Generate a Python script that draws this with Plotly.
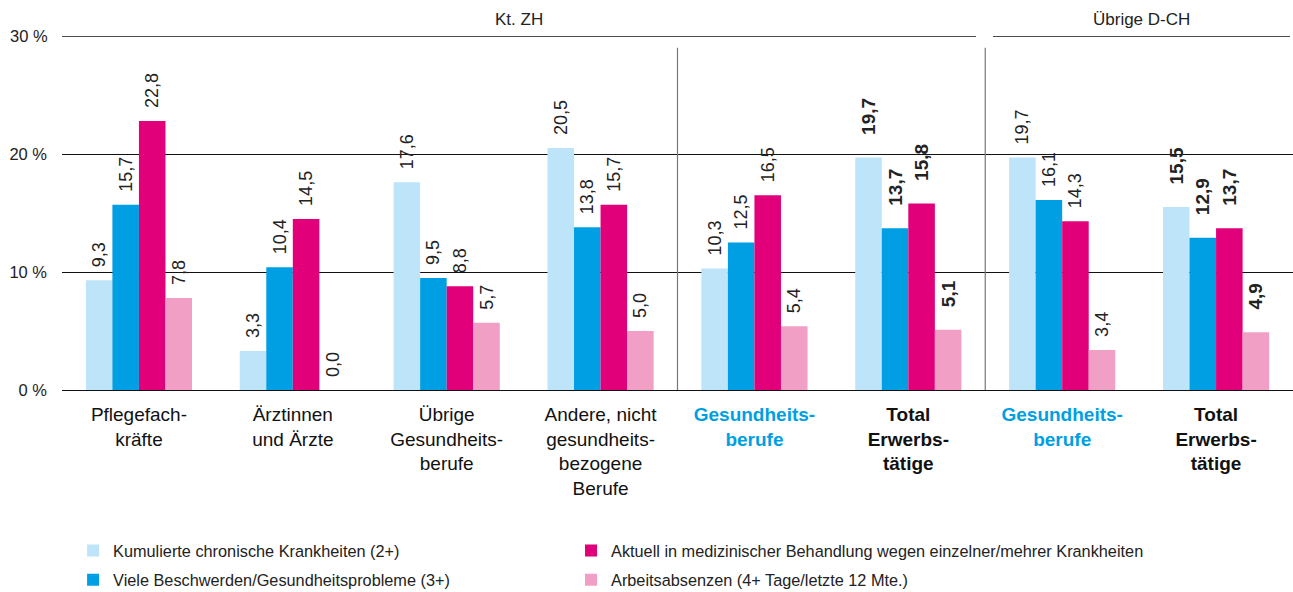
import plotly.graph_objects as go

categories = [
    "Pflegefach-<br>kräfte",
    "Ärztinnen<br>und Ärzte",
    "Übrige<br>Gesundheits-<br>berufe",
    "Andere, nicht<br>gesundheits-<br>bezogene<br>Berufe",
    "<b><span style='color:#009fe3'>Gesundheits-<br>berufe</span></b>",
    "<b>Total<br>Erwerbs-<br>tätige</b>",
    "<b><span style='color:#009fe3'>Gesundheits-<br>berufe</span></b>",
    "<b>Total<br>Erwerbs-<br>tätige</b>",
]
bold_points = [False, False, False, False, False, True, False, True]

series_names = [
    "Kumulierte chronische Krankheiten (2+)",
    "Viele Beschwerden/Gesundheitsprobleme (3+)",
    "Aktuell in medizinischer Behandlung wegen einzelner/mehrer Krankheiten",
    "Arbeitsabsenzen (4+ Tage/letzte 12 Mte.)",
]
kumulierte = [9.3, 3.3, 17.6, 20.5, 10.3, 19.7, 19.7, 15.5]
viele = [15.7, 10.4, 9.5, 13.8, 12.5, 13.7, 16.1, 12.9]
aktuell = [22.8, 14.5, 8.8, 15.7, 16.5, 15.8, 14.3, 13.7]
absenzen = [7.8, 0.0, 5.7, 5.0, 5.4, 5.1, 3.4, 4.9]

colors = ["#bee4f9", "#009fe3", "#e2007a", "#f29fc5"]
legend_ids = ["legend", "legend", "legend2", "legend2"]

group_headers = ["Kt. ZH", "Übrige D-CH"]
y_ticks = [0, 10, 20, 30]
y_ticktext = ["0 %", "10 %", "20 %", "30 %"]

FONT = "Liberation Sans, Arial, sans-serif"
NB = "\u00a0"
x = list(range(len(categories)))

fig = go.Figure()
for i, (name, vals, col, lg) in enumerate(zip(series_names, [kumulierte, viele, aktuell, absenzen], colors, legend_ids)):
    texts, sizes = [], []
    for v, b in zip(vals, bold_points):
        s = f"{v:.1f}".replace(".", ",")
        if b:
            texts.append(f"<b>{NB * 3}\u2009{s}</b>")
            sizes.append(19)
        else:
            texts.append(f"{NB * 2}{s}")
            sizes.append(18)
    fig.add_trace(go.Bar(
        x=x, y=vals, name=name, marker=dict(color=col, line=dict(width=0)),
        text=texts, textposition="outside", textangle=-90,
        textfont=dict(family=FONT, size=sizes, color="#222"),
        constraintext="none", cliponaxis=False,
        legend=lg, legendgroup=f"g{i}", hoverinfo="skip",
    ))

# 30% line split in two groups
fig.add_shape(type="line", xref="x", yref="y", x0=-0.5, x1=5.44, y0=30, y1=30,
              line=dict(color="#111", width=1.3))
fig.add_shape(type="line", xref="x", yref="y", x0=5.55, x1=7.48, y0=30, y1=30,
              line=dict(color="#111", width=1.3))
for xs in [3.5, 5.5]:
    fig.add_shape(type="line", xref="x", yref="y", x0=xs, x1=xs, y0=0, y1=29.0,
                  line=dict(color="#777", width=1.2), layer="above")

fig.add_annotation(x=(-0.5 + 5.44) / 2, y=30, xref="x", yref="y", text=group_headers[0],
                   showarrow=False, yanchor="bottom", yshift=5,
                   font=dict(family=FONT, size=17, color="#222"))
fig.add_annotation(x=(5.55 + 7.48) / 2, y=30, xref="x", yref="y", text=group_headers[1],
                   showarrow=False, yanchor="bottom", yshift=5,
                   font=dict(family=FONT, size=17, color="#222"))

leg_common = dict(orientation="v", yanchor="top", xanchor="left", y=-0.405,
                  font=dict(family=FONT, size=16.3, color="#222"),
                  itemclick=False, tracegroupgap=5, bgcolor="rgba(0,0,0,0)")

fig.update_layout(
    width=1293, height=592,
    margin=dict(l=62, r=0, t=36, b=202, autoexpand=False),
    plot_bgcolor="white", paper_bgcolor="white",
    barmode="group", bargap=0.31, bargroupgap=0,
    font=dict(family=FONT, size=15, color="#222"),
    showlegend=True,
    legend=dict(x=0.009, **leg_common),
    legend2=dict(x=0.4135, **leg_common),
    xaxis=dict(range=[-0.5, 7.5], tickvals=x, ticktext=categories,
               showgrid=False, zeroline=False, showline=False, ticks="",
               ticklabelstandoff=11,
               tickfont=dict(family=FONT, size=19, color="#111"),
               fixedrange=True),
    yaxis=dict(range=[0, 30], tickvals=y_ticks[:3], ticktext=y_ticktext[:3],
               showgrid=True, gridcolor="#111", gridwidth=1,
               zeroline=True, zerolinecolor="#111", zerolinewidth=1.3,
               showline=False, ticks="", ticklabelstandoff=14,
               tickfont=dict(family=FONT, size=16.5, color="#222"), fixedrange=True),
)
fig.add_annotation(x=0, xref="paper", y=y_ticks[3], yref="y", text=y_ticktext[3], showarrow=False,
                   xanchor="right", xshift=-12, font=dict(family=FONT, size=16.5, color="#222"))

fig.write_html("out.html", config={"displayModeBar": False},
               post_script="document.body.style.margin='0';document.body.style.padding='0';")
